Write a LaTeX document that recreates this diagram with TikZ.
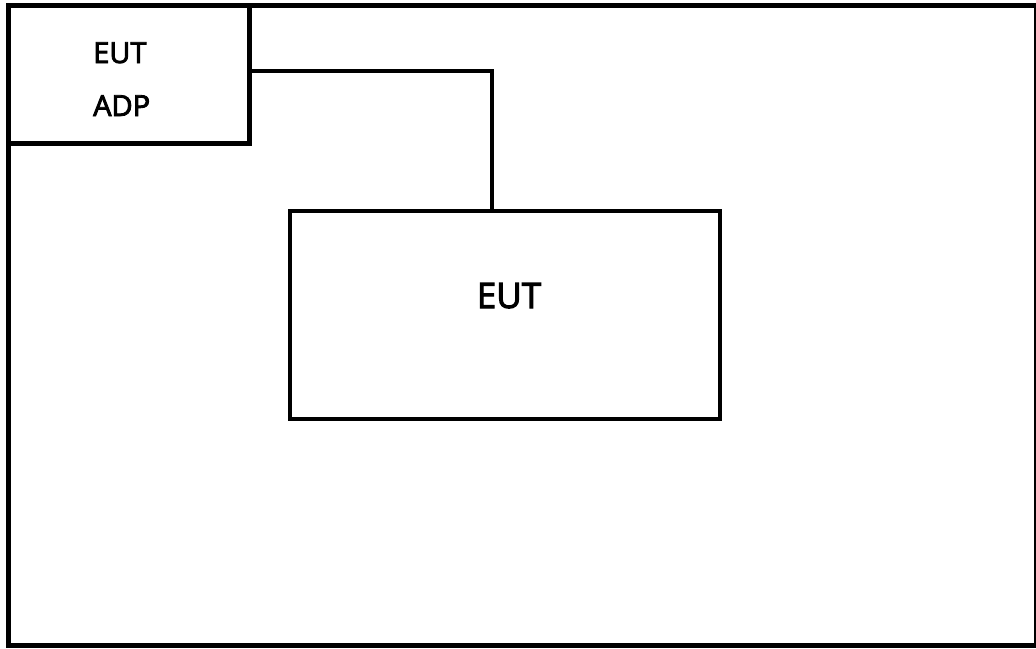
\documentclass[tikz,border=0pt]{standalone}
\usepackage{fontspec}
\setmainfont{Open Sans}
\newfontfamily\semib{Open Sans}[FakeBold=3]
\begin{document}
\begin{tikzpicture}[x=1pt,y=-1pt,
  box/.style={draw=black,line width=5pt,inner sep=0pt,outer sep=0pt},
  wire/.style={draw=black,line width=4.5pt},
  lbl/.style={inner sep=0pt,anchor=base west,font=\semib\fontsize{29}{34}\selectfont}]
\useasboundingbox (0,0) rectangle (1036,648);
\path[fill=white] (0,0) rectangle (1036,648);
\draw[line width=5pt] (8,5.5) rectangle (1036,645.5);
\node[box,minimum width=241.5pt,minimum height=138pt,anchor=north west] (adp) at (8,5.5) {};
\node[lbl] (t1) at (93,63) {EUT};
\node[lbl] (t2) at (93,116) {ADP};
\node[box,line width=4.5pt,minimum width=430pt,minimum height=208pt,anchor=north west] (eut) at (290,211) {};
\node[inner sep=0pt,anchor=base,font=\semib\fontsize{35}{40}\selectfont] (t3) at (509,308) {EUT};
\coordinate (c1) at (492,71);
\draw[wire] (adp.east |- c1) -- (c1) -- (eut.north -| c1);
\end{tikzpicture}
\end{document}
